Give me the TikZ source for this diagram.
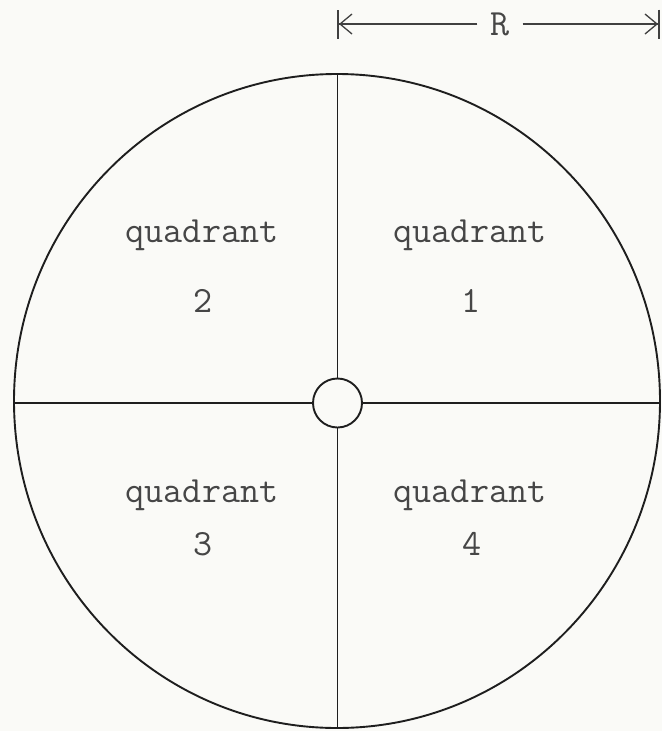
\documentclass[tikz,border=0pt]{standalone}
\usetikzlibrary{arrows.meta,shapes.geometric}

\definecolor{paper}{RGB}{250,250,247}
\definecolor{ink}{RGB}{30,30,30}
\definecolor{type}{RGB}{70,70,70}
\tikzstyle{rim} = [draw=ink,line width=1.9pt]
\tikzstyle{axis} = [draw=ink,line width=1.8pt]
\tikzstyle{dimarrow} = [draw=ink!85,line width=1.3pt,-{Straight Barb[length=12pt,width=20pt]Bar[width=29pt,line width=2pt]}]
\tikzstyle{label} = [text=type,font=\fontsize{37}{44}\selectfont\ttfamily,inner sep=0pt]

\begin{document}
\begin{tikzpicture}[x=1pt,y=-1pt]
\fill[paper] (0,0) rectangle (662,731);
\useasboundingbox (0,0) rectangle (662,731);

% disc with its hub
\node (disc) [rim,ellipse,minimum width=646pt,minimum height=654pt,inner sep=0pt] at (337,401) {};
\node (hub) [rim,circle,minimum size=49pt,inner sep=0pt] at (337.5,403) {};

\draw [axis] (hub) -- (hub |- disc.north);
\draw [axis] (hub) -- (hub |- disc.south);
\draw [axis] (hub) -- (hub -| disc.west);
\draw [axis] (hub) -- (hub -| disc.east);

% radius
\coordinate (rl) at (337,24);
\coordinate (rr) at (660,24);
\node (rlab) [label,inner xsep=13pt] at (500,24) {R};
\draw [dimarrow] (rlab) -- (rl);
\draw [dimarrow] (rlab) -- (rr);

% quadrant names
\node (q1) [label,anchor=base] at (470,242) {quadrant};
\node (n1) [label,anchor=base] at (471,312) {1};
\node (q2) [label,anchor=base] at (202,242) {quadrant};
\node (n2) [label,anchor=base] at (203,312) {2};
\node (q3) [label,anchor=base] at (202,502) {quadrant};
\node (n3) [label,anchor=base] at (203,555) {3};
\node (q4) [label,anchor=base] at (470,502) {quadrant};
\node (n4) [label,anchor=base] at (472,555) {4};

\end{tikzpicture}
\end{document}
